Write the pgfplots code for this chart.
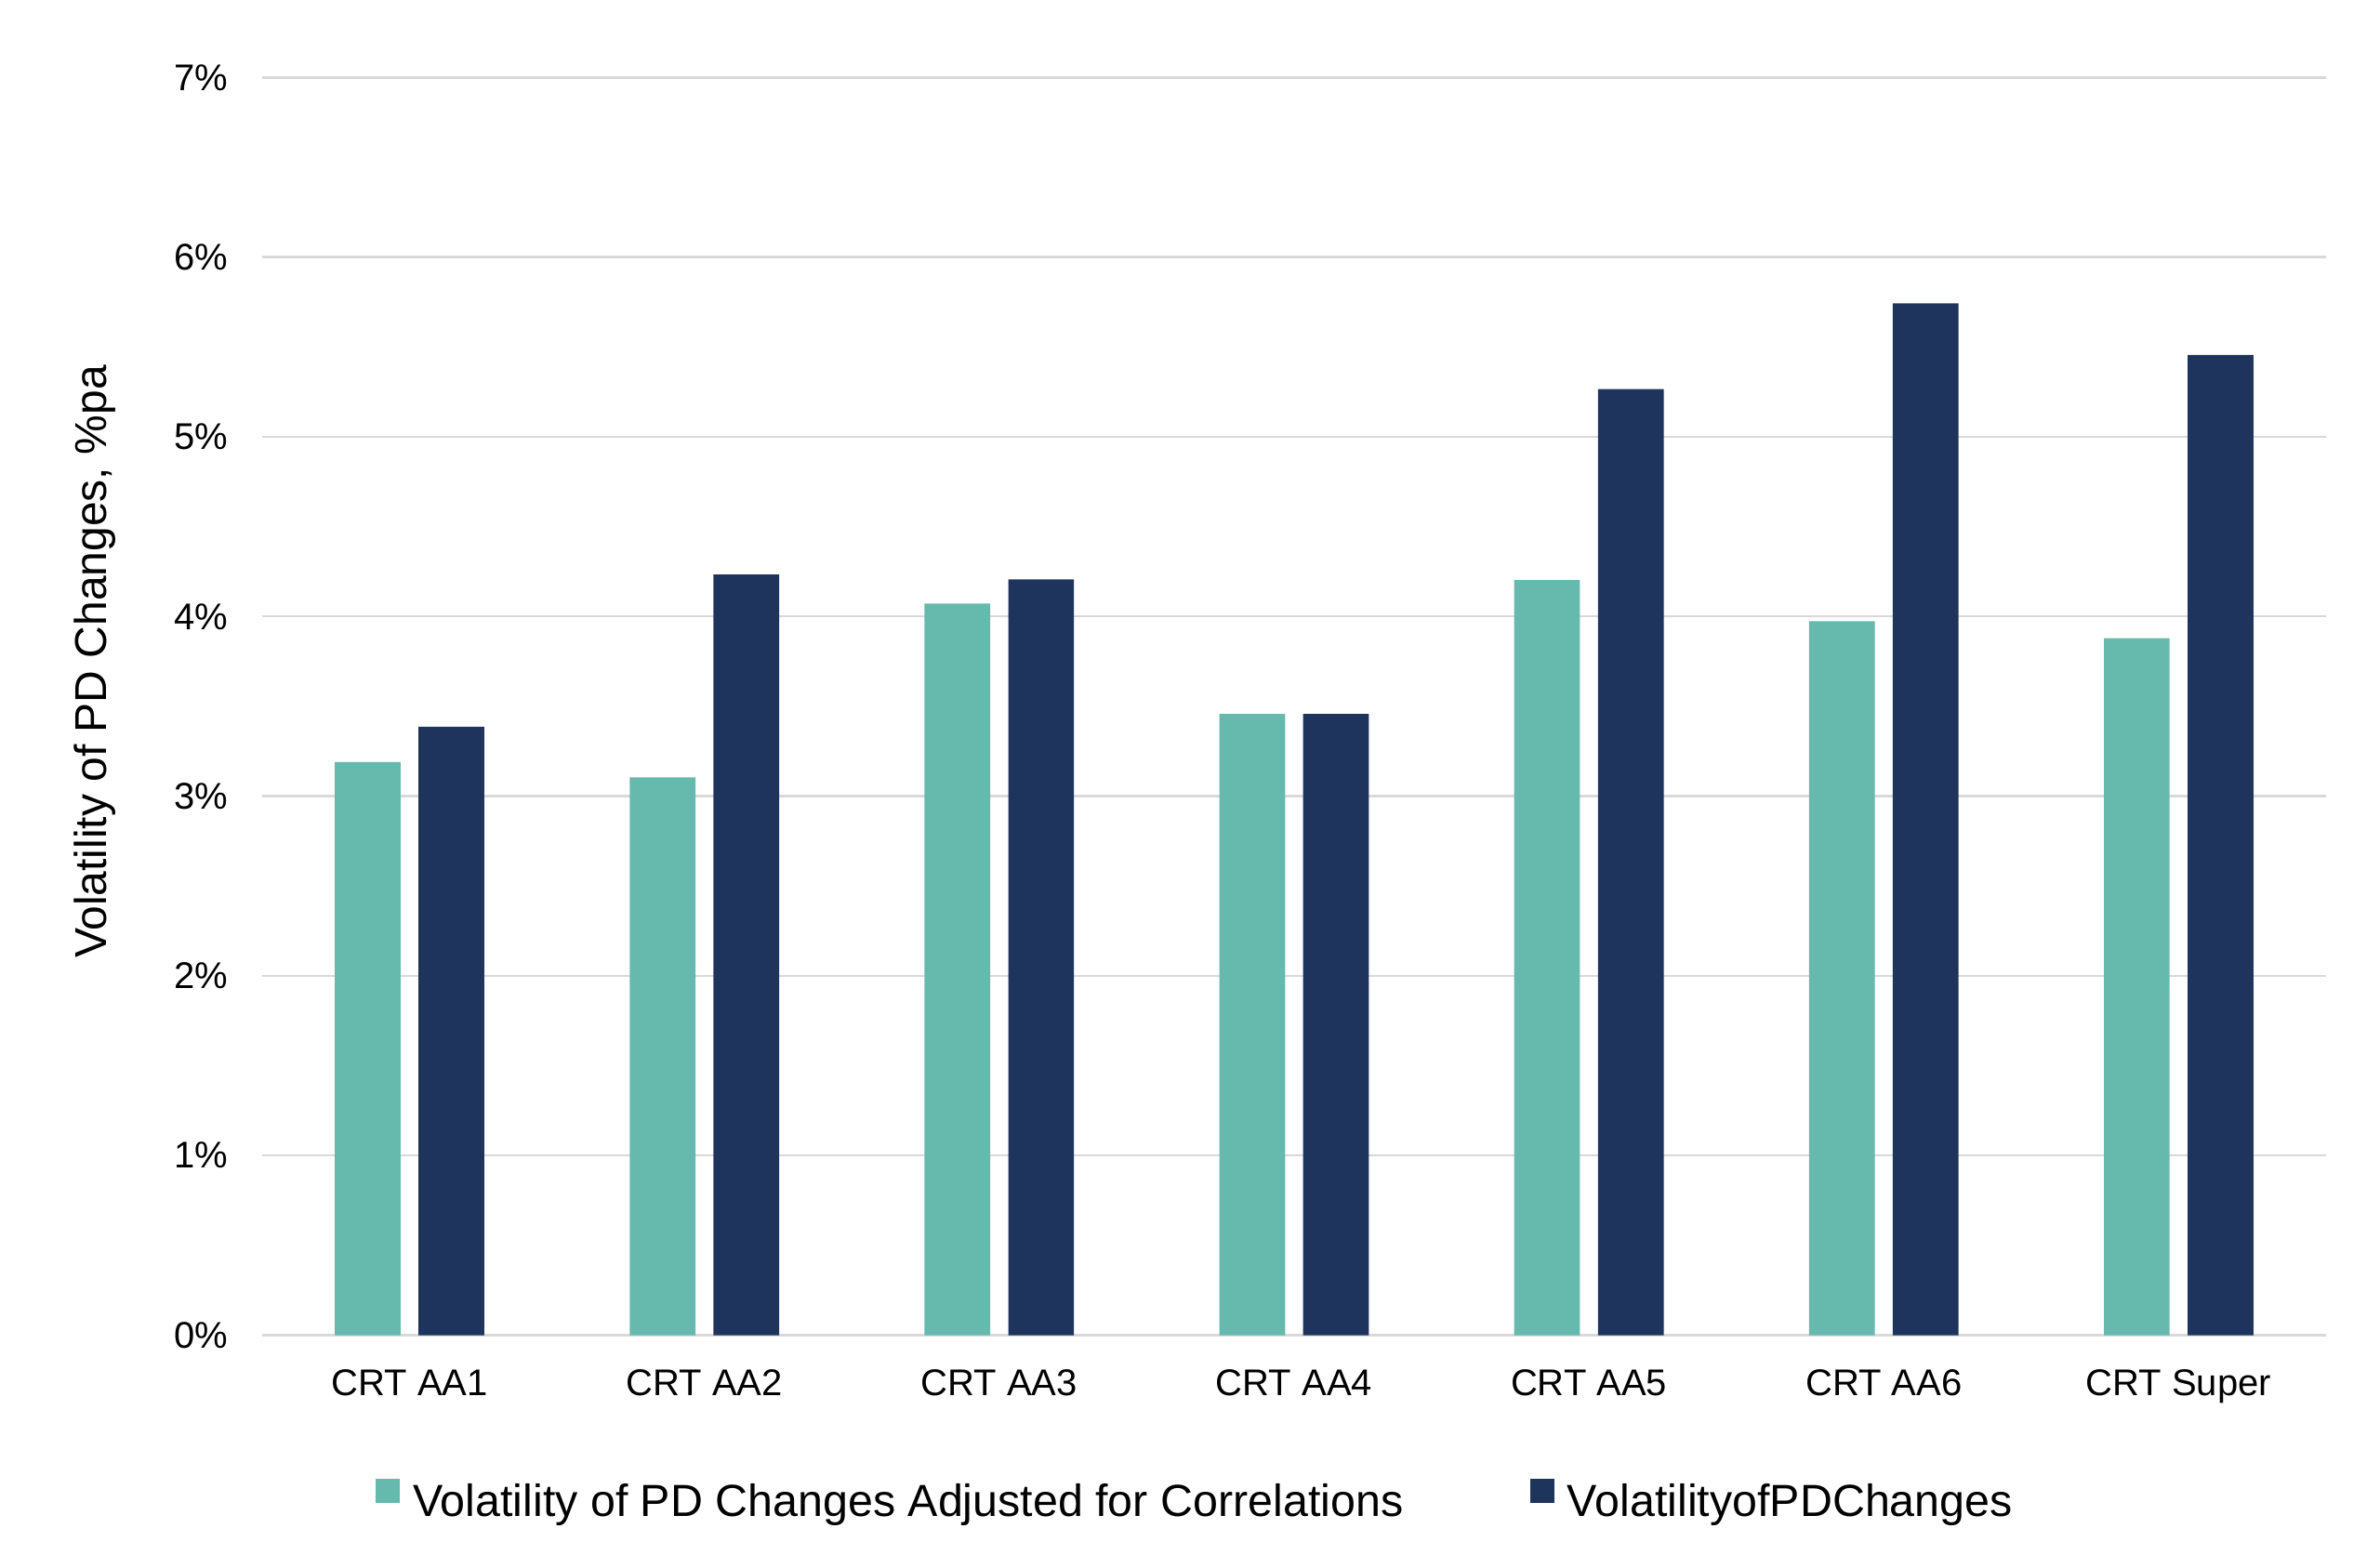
\documentclass[border=0pt]{standalone}
\usepackage{fontspec}
\setmainfont{Liberation Sans}
\usepackage{pgfplots}
\pgfplotsset{compat=1.18}
\definecolor{tealbar}{HTML}{66B9AD}
\definecolor{navybar}{HTML}{1F345D}
\definecolor{gridgray}{HTML}{D9D9D9}
\begin{document}
\begin{tikzpicture}
\useasboundingbox (-70.5pt,-58.875pt) rectangle (569.5pt,359.125pt);
\begin{axis}[
  at={(0pt,0pt)}, anchor=south west,
  scale only axis, width=555pt, height=338.3pt,
  ybar=0pt,
  ymin=0, ymax=7, xmin=-0.5, xmax=6.5,
  ytick={0,1,2,3,4,5,6,7},
  yticklabels={0\%,1\%,2\%,3\%,4\%,5\%,6\%,7\%},
  xtick=data,
  xticklabels={CRT AA1,CRT AA2,CRT AA3,CRT AA4,CRT AA5,CRT AA6,CRT Super},
  major tick length=0pt,
  axis line style={draw=none},
  ymajorgrids, grid style={draw=gridgray, line width=0.6pt},
  tick label style={font=\fontsize{10}{12}\selectfont},
  yticklabel style={inner sep=0pt, xshift=-9pt},
  xticklabel style={inner sep=0pt, yshift=-9.1pt},
  ylabel={Volatility of PD Changes, \%pa},
  ylabel style={font=\fontsize{12}{14}\selectfont, at={(axis description cs:-0.0811,0.5354)}, anchor=center},
  legend style={at={(axis description cs:0.4515,-0.131)}, anchor=center, draw=none, fill=none, inner sep=0pt,
    font=\fontsize{12.1}{14}\selectfont, nodes={inner sep=0pt},
    /tikz/every odd column/.append style={column sep=3.6pt},
    /tikz/every even column/.append style={column sep=34pt}},
  legend columns=2, legend cell align=left,
]
\addplot[fill=tealbar, draw=none, bar width=0.223, bar shift=-0.142,
  legend image code/.code={\fill[tealbar] (0pt,0pt) rectangle (6.5pt,6.5pt);}]
  coordinates {(0,3.19) (1,3.105) (2,4.072) (3,3.457) (4,4.203) (5,3.974) (6,3.879)};
\addlegendentry{Volatility of PD Changes Adjusted for Correlations}
\addplot[fill=navybar, draw=none, bar width=0.223, bar shift=0.142,
  legend image code/.code={\fill[navybar] (0pt,0pt) rectangle (6.5pt,6.5pt);}]
  coordinates {(0,3.386) (1,4.233) (2,4.206) (3,3.457) (4,5.265) (5,5.743) (6,5.456)};
\addlegendentry{VolatilityofPDChanges}
\end{axis}
\end{tikzpicture}
\end{document}
